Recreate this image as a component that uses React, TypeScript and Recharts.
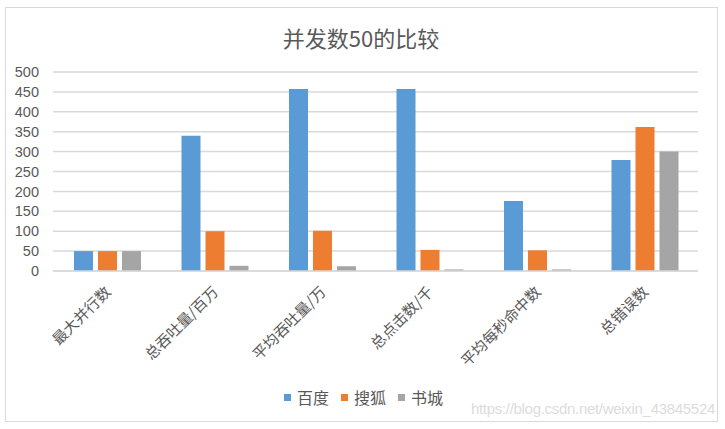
import React from 'react';
import { BarChart, Bar, XAxis, YAxis, CartesianGrid, Legend } from 'recharts';

const categories = ['最大并行数', '总吞吐量/百万', '平均吞吐量/万', '总点击数/千', '平均每秒命中数', '总错误数'];
const baidu = [50, 340, 457, 457, 176, 279];
const sohu = [50, 100, 101, 53, 52, 362];
const shucheng = [50, 13, 12, 4, 4, 300];
const yTicks = [0, 50, 100, 150, 200, 250, 300, 350, 400, 450, 500];
const seriesNames = ['百度', '搜狐', '书城'];
const seriesColors = ['#5B9BD5', '#ED7D31', '#A5A5A5'];

const data = categories.map((c, i) => ({
  name: c,
  baidu: baidu[i],
  sohu: sohu[i],
  shucheng: shucheng[i],
}));

const TEXT = '#595959';

const XTick = (props: any) => {
  const { x, y, payload } = props;
  return (
    <text
      x={x + 5}
      y={y + 14}
      textAnchor="end"
      transform={`rotate(-45, ${x + 5}, ${y + 14})`}
      fill={TEXT}
      fontSize={15}
      fontFamily="'Noto Sans CJK SC', sans-serif"
    >
      {payload.value}
    </text>
  );
};

const LegendContent = () => {
  return (
    <div style={{ display: 'flex', justifyContent: 'center', alignItems: 'center', paddingLeft: 14 }}>
      {seriesNames.map((n, i) => (
        <div key={i} style={{ display: 'flex', alignItems: 'center', marginRight: 12 }}>
          <div style={{ width: 7, height: 7, background: seriesColors[i], marginRight: 6 }} />
          <span style={{ fontSize: 16, color: TEXT, fontFamily: "'Noto Sans CJK SC', sans-serif", lineHeight: '20px' }}>
            {n}
          </span>
        </div>
      ))}
    </div>
  );
};

export default function App() {
  return (
    <div style={{ position: 'absolute', left: 0, top: 0, width: 725, height: 429, background: '#fff' }}>
      <div
        style={{
          position: 'absolute',
          left: 5,
          top: 7,
          width: 711,
          height: 413,
          border: '1px solid #D9D9D9',
        }}
      />
      <div
        style={{
          position: 'absolute',
          left: 0,
          top: 22,
          width: 722,
          textAlign: 'center',
          fontSize: 22,
          lineHeight: '30px',
          color: TEXT,
          fontFamily: "'Noto Sans CJK SC', sans-serif",
        }}
      >
        并发数50的比较
      </div>
      <div style={{ position: 'absolute', left: 0, top: 0 }}>
        <BarChart
          width={725}
          height={429}
          data={data}
          margin={{ top: 72, right: 27, bottom: 0, left: 8 }}
          barCategoryGap={21}
          barGap={5}
        >
          <CartesianGrid vertical={false} stroke="#D9D9D9" strokeWidth={1.5} />
          <XAxis
            dataKey="name"
            interval={0}
            height={158}
            tickLine={false}
            axisLine={{ stroke: '#D9D9D9', strokeWidth: 1.5 }}
            tick={<XTick />}
          />
          <YAxis
            width={45}
            domain={[0, 500]}
            ticks={yTicks}
            interval={0}
            axisLine={false}
            tickLine={false}
            tickSize={0}
            tickMargin={14}
            tick={{ fill: TEXT, fontSize: 14.5, fontFamily: "'Liberation Sans', sans-serif" }}
          />
          <Legend
            layout="horizontal"
            align="center"
            verticalAlign="middle"
            content={<LegendContent />}
            wrapperStyle={{ top: 387, left: 0, width: 725 }}
          />
          <Bar dataKey="baidu" name={seriesNames[0]} fill={seriesColors[0]} isAnimationActive={false} />
          <Bar dataKey="sohu" name={seriesNames[1]} fill={seriesColors[1]} isAnimationActive={false} />
          <Bar dataKey="shucheng" name={seriesNames[2]} fill={seriesColors[2]} isAnimationActive={false} />
        </BarChart>
      </div>
      <div
        style={{
          position: 'absolute',
          right: 10,
          top: 400,
          fontSize: 15,
          lineHeight: '18px',
          color: '#DCDCDC',
          fontFamily: "'Liberation Sans', sans-serif",
          letterSpacing: -0.3,
        }}
      >
        https://blog.csdn.net/weixin_43845524
      </div>
    </div>
  );
}
